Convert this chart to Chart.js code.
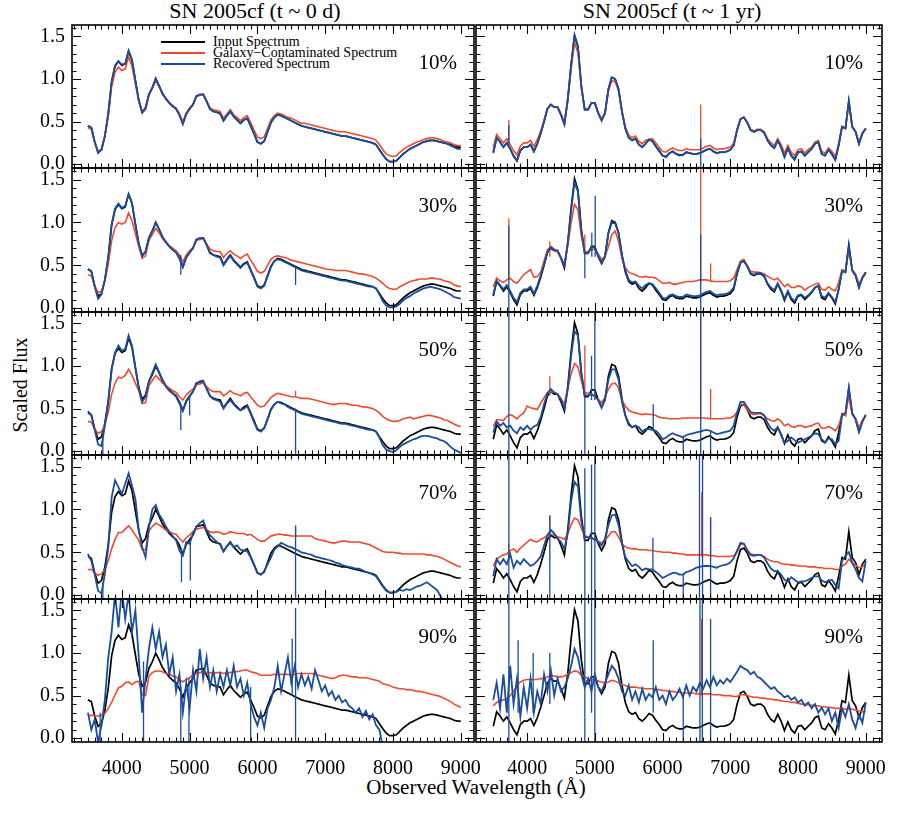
<!DOCTYPE html>
<html>
<head>
<meta charset="utf-8">
<script src="https://cdn.jsdelivr.net/npm/chart.js@4.4.1/dist/chart.umd.min.js"></script>
<style>
  body { margin: 0; width: 900px; height: 835px; background: #fff; position: relative; overflow: hidden;
         font-family: "Liberation Serif", "DejaVu Serif", serif; color: #000; }
  canvas { position: absolute; }
  .txt { position: absolute; white-space: nowrap; line-height: 1; }
  .leg { position: absolute; left: 161px; font-size: 14px; line-height: 11px; height: 11px; white-space: nowrap; }
  .leg span { display: inline-block; width: 44px; height: 2px; vertical-align: middle; margin-right: 8px; position: relative; top: -1px; }
</style>
</head>
<body>
<div class="txt" style="left:255px;top:0px;font-size:22px;transform:translateX(-50%)">SN 2005cf (t ~ 0 d)</div>
<div class="txt" style="left:672px;top:0px;font-size:22px;transform:translateX(-50%)">SN 2005cf (t ~ 1 yr)</div>
<div class="txt" style="left:20px;top:385px;font-size:20px;transform:translate(-50%,-50%) rotate(-90deg)">Scaled Flux</div>
<div class="txt" style="left:476px;top:777px;font-size:21px;transform:translateX(-50%)">Observed Wavelength (Å)</div>
<div class="leg" style="top:36px"><span style="background:#000"></span>Input Spectrum</div>
<div class="leg" style="top:47px"><span style="background:#f04a2e"></span>Galaxy−Contaminated Spectrum</div>
<div class="leg" style="top:58px"><span style="background:#1b4d9e"></span>Recovered Spectrum</div>
<script>
// wavelength grid (Å)
const wave = [3500,3550,3600,3650,3700,3750,3800,3850,3900,3950,
  4000,4050,4100,4150,4200,4250,4300,4350,4400,4450,
  4500,4550,4600,4650,4700,4750,4800,4850,4900,4950,
  5000,5050,5100,5150,5200,5250,5300,5350,5400,5450,
  5500,5550,5600,5650,5700,5750,5800,5850,5900,5950,
  6000,6050,6100,6150,6200,6250,6300,6350,6400,6450,
  6500,6550,6600,6650,6700,6750,6800,6850,6900,6950,
  7000,7050,7100,7150,7200,7250,7300,7350,7400,7450,
  7500,7550,7600,7650,7700,7750,7800,7850,7900,7950,
  8000,8050,8100,8150,8200,8250,8300,8350,8400,8450,
  8500,8550,8600,8650,8700,8750,8800,8850,8900,8950,
  9000];
const xTickVals = [4000, 5000, 6000, 7000, 8000, 9000];
const yTickVals = [0, 0.5, 1.0, 1.5];
const fractions = ['10%', '30%', '50%', '70%', '90%'];

// ---- t ~ 0 d (left column) ----
const L_input = [.45,.43,.26,.14,.17,.33,.59,.97,1.15,1.21,
  1.16,1.18,1.33,1.22,.98,.75,.61,.66,.82,.90,
  1.00,.92,.83,.77,.72,.68,.65,.58,.48,.59,
  .65,.70,.80,.81,.82,.74,.65,.62,.61,.60,
  .51,.57,.62,.56,.52,.48,.52,.54,.45,.36,
  .26,.24,.27,.38,.49,.55,.58,.57,.55,.53,
  .51,.49,.47,.45,.44,.43,.42,.41,.40,.39,
  .38,.37,.36,.35,.34,.33,.33,.32,.31,.30,
  .29,.28,.27,.26,.25,.23,.17,.11,.06,.03,
  .03,.04,.08,.12,.15,.18,.20,.22,.24,.26,
  .27,.28,.28,.27,.26,.25,.24,.23,.21,.20,
  .20];
const L_red10 = [.43,.41,.26,.15,.18,.33,.56,.91,1.08,1.14,
  1.10,1.12,1.26,1.15,.94,.74,.60,.64,.81,.89,
  .98,.91,.82,.77,.72,.69,.66,.59,.50,.60,
  .66,.70,.80,.81,.82,.74,.66,.64,.63,.62,
  .54,.59,.64,.58,.55,.51,.55,.57,.49,.40,
  .32,.30,.32,.42,.52,.57,.60,.59,.57,.55,
  .54,.52,.50,.48,.48,.47,.46,.45,.44,.43,
  .42,.41,.40,.39,.38,.38,.38,.37,.36,.35,
  .34,.33,.32,.31,.30,.28,.23,.17,.12,.10,
  .09,.10,.14,.17,.20,.22,.24,.26,.27,.29,
  .30,.31,.31,.30,.29,.27,.26,.25,.23,.22,
  .22];
const L_blue10 = [.45,.43,.26,.13,.17,.33,.60,.97,1.16,1.21,
  1.17,1.18,1.33,1.23,.98,.75,.61,.66,.82,.90,
  1.01,.92,.83,.77,.72,.68,.65,.58,.47,.59,
  .65,.70,.80,.82,.82,.74,.65,.62,.61,.59,
  .51,.57,.62,.56,.52,.48,.52,.54,.45,.36,
  .26,.24,.27,.38,.49,.55,.58,.57,.55,.53,
  .51,.49,.47,.45,.44,.43,.42,.41,.40,.39,
  .38,.37,.36,.35,.34,.33,.33,.32,.31,.30,
  .29,.28,.27,.26,.25,.23,.17,.11,.06,.03,
  .03,.04,.08,.12,.15,.18,.20,.22,.24,.26,
  .27,.28,.28,.27,.26,.25,.24,.22,.20,.18,
  .18];
const L_red30 = [.39,.38,.26,.18,.20,.32,.51,.79,.94,1.00,
  .98,1.00,1.11,1.02,.87,.72,.58,.61,.79,.86,
  .93,.88,.81,.77,.73,.70,.67,.62,.54,.62,
  .67,.71,.79,.80,.81,.75,.69,.67,.66,.66,
  .59,.64,.67,.63,.61,.58,.61,.63,.56,.50,
  .43,.41,.43,.50,.57,.60,.61,.60,.59,.58,
  .56,.55,.54,.53,.52,.51,.50,.49,.48,.47,
  .46,.45,.45,.44,.44,.44,.44,.43,.42,.41,
  .40,.40,.39,.38,.37,.35,.32,.29,.25,.23,
  .22,.22,.25,.27,.29,.31,.32,.33,.34,.34,
  .34,.35,.35,.34,.34,.32,.31,.30,.27,.26,
  .25];
const L_blue30 = [.46,.43,.25,.11,.16,.33,.60,.98,1.16,1.22,
  1.17,1.19,1.33,1.23,.98,.75,.61,.66,.82,.90,
  1.00,.92,.83,.77,.72,.68,.65,.58,.48,.59,
  .65,.70,.80,.82,.82,.74,.64,.62,.60,.59,
  .50,.56,.61,.55,.51,.47,.51,.53,.44,.35,
  .25,.23,.26,.37,.48,.55,.57,.56,.54,.52,
  .50,.48,.46,.44,.43,.42,.41,.40,.39,.38,
  .37,.36,.35,.34,.33,.32,.32,.31,.30,.29,
  .28,.27,.26,.25,.25,.23,.16,.08,.03,.01,
  .01,.02,.05,.09,.12,.14,.17,.19,.21,.23,
  .24,.25,.24,.23,.22,.20,.18,.16,.13,.12,
  .11];
const L_red50 = [.35,.34,.26,.21,.23,.31,.46,.67,.80,.87,
  .86,.89,.96,.89,.80,.71,.56,.57,.77,.83,
  .89,.85,.80,.77,.74,.71,.69,.64,.60,.66,
  .70,.73,.78,.79,.80,.76,.72,.70,.70,.70,
  .65,.68,.71,.68,.67,.65,.68,.69,.64,.59,
  .54,.52,.53,.58,.63,.66,.68,.67,.66,.65,
  .64,.64,.63,.62,.62,.62,.61,.60,.59,.58,
  .57,.56,.55,.55,.56,.56,.56,.55,.54,.54,
  .53,.52,.52,.51,.50,.48,.45,.41,.38,.36,
  .35,.35,.36,.38,.39,.40,.38,.39,.40,.41,
  .42,.42,.41,.40,.39,.37,.36,.34,.32,.30,
  .29];
const L_blue50 = [.47,.42,.25,.08,.06,.30,.58,.96,1.16,1.24,
  1.18,1.20,1.36,1.24,.98,.74,.58,.64,.82,.92,
  1.02,.93,.84,.76,.71,.68,.64,.56,.47,.58,
  .64,.70,.79,.82,.83,.73,.65,.61,.60,.58,
  .50,.56,.60,.55,.51,.48,.50,.53,.44,.34,
  .25,.23,.27,.37,.49,.55,.58,.56,.55,.52,
  .50,.48,.46,.44,.43,.42,.41,.40,.39,.38,
  .37,.36,.35,.34,.33,.32,.32,.31,.30,.29,
  .28,.27,.26,.25,.25,.23,.16,.07,.02,.00,
  -.01,.01,.05,.08,.10,.12,.14,.15,.17,.18,
  .18,.17,.16,.15,.13,.12,.09,.05,.02,.00,
  -.02];
const L_red70 = [.30,.30,.26,.23,.25,.30,.40,.54,.65,.73,
  .73,.77,.81,.76,.70,.64,.53,.53,.75,.80,
  .84,.82,.79,.76,.74,.72,.71,.66,.62,.67,
  .70,.74,.77,.78,.79,.76,.74,.73,.74,.73,
  .71,.72,.74,.73,.72,.72,.72,.70,.71,.68,
  .65,.63,.63,.66,.69,.70,.71,.71,.70,.70,
  .69,.69,.69,.69,.69,.69,.69,.66,.65,.64,
  .63,.62,.61,.61,.62,.63,.63,.62,.62,.62,
  .62,.61,.60,.59,.57,.55,.53,.51,.50,.50,
  .50,.49,.49,.48,.48,.48,.48,.48,.48,.48,
  .47,.47,.46,.45,.44,.42,.40,.38,.36,.34,
  .33];
const L_blue70 = [.48,.40,.24,.05,.02,.25,.56,1.14,1.34,1.26,
  1.18,1.30,1.42,1.28,1.12,.76,.56,.44,.79,1.00,
  1.05,.94,.88,.80,.74,.69,.64,.52,.46,.62,
  .60,.72,.80,.84,.87,.76,.70,.66,.62,.59,
  .51,.57,.61,.56,.58,.53,.52,.51,.44,.35,
  .26,.24,.28,.36,.44,.53,.57,.61,.59,.57,
  .56,.54,.52,.50,.49,.48,.47,.45,.44,.43,
  .42,.41,.40,.38,.37,.35,.34,.33,.32,.31,
  .31,.29,.27,.26,.24,.22,.16,.10,.05,.03,
  .03,.04,.06,.05,.07,.06,.08,.10,.11,.13,
  .15,.12,.09,.06,-.01,-.08,-.15,null,null,null,
  null];
const L_red90 = [.26,.27,.26,.26,.27,.29,.35,.42,.51,.59,
  .61,.65,.66,.63,.66,.67,.51,.50,.73,.77,
  .79,.79,.78,.76,.75,.73,.72,.69,.66,.69,
  .71,.74,.76,.77,.78,.77,.77,.76,.77,.77,
  .76,.77,.77,.78,.78,.79,.80,.80,.78,.77,
  .76,.74,.74,.74,.74,.75,.75,.75,.75,.75,
  .74,.75,.76,.76,.76,.76,.76,.75,.74,.73,
  .72,.71,.70,.71,.73,.74,.74,.73,.72,.72,
  .71,.71,.71,.70,.69,.68,.67,.64,.63,.62,
  .60,.59,.58,.58,.57,.57,.56,.55,.55,.54,
  .53,.52,.51,.50,.49,.47,.45,.43,.40,.38,
  .36];
const L_blue90 = [.30,.10,.22,-.05,.15,.45,.95,1.25,1.70,1.30,
  1.75,1.40,1.70,1.25,1.50,.95,.30,.70,1.05,1.30,
  1.05,1.25,.95,1.10,.75,.95,.55,.75,.30,.65,
  .35,.80,.55,1.05,.70,.95,.60,.80,.55,.75,
  .60,.80,.62,.85,.60,.70,.50,.65,.40,.25,
  .15,.30,.12,.35,.45,.60,.85,.55,.75,.95,
  .65,.85,.60,.75,.62,.72,.58,.80,.68,.55,
  .62,.50,.55,.45,.50,.42,.45,.38,.35,.30,
  .35,.25,.32,.22,.28,.15,.10,-.10,null,null,
  null,null,null,null,null,null,null,null,null,null,
  null,null,null,null,null,null,null,null,null,null,
  null];

// ---- t ~ 1 yr (right column) ----
const R_input = [.14,.31,.26,.20,.25,.18,.10,.04,.16,.20,
  .20,.23,.15,.24,.36,.50,.65,.70,.67,.67,
  .58,.47,.76,1.17,1.51,1.38,.92,.64,.64,.72,
  .72,.60,.52,.60,.88,1.02,1.00,.88,.62,.42,
  .31,.28,.30,.23,.20,.24,.29,.27,.21,.16,
  .10,.09,.13,.15,.12,.11,.11,.14,.13,.12,
  .12,.13,.15,.17,.18,.15,.13,.14,.14,.15,
  .17,.22,.40,.53,.55,.49,.40,.38,.40,.40,
  .37,.28,.22,.19,.28,.20,.09,.19,.10,.06,
  .14,.15,.10,.14,.18,.24,.26,.12,.10,.17,
  .12,.05,.22,.44,.42,.74,.44,.38,.24,.36,
  .42];
const R_red10 = [.20,.35,.30,.25,.30,.23,.16,.11,.21,.25,
  .25,.28,.21,.29,.39,.52,.66,.70,.67,.67,
  .59,.49,.75,1.12,1.43,1.31,.90,.65,.65,.72,
  .71,.61,.53,.61,.86,.98,.97,.86,.62,.44,
  .34,.31,.33,.27,.24,.28,.29,.30,.25,.20,
  .15,.14,.17,.19,.17,.16,.16,.18,.17,.17,
  .17,.17,.19,.21,.22,.19,.17,.18,.18,.19,
  .20,.25,.41,.53,.55,.49,.41,.39,.41,.41,
  .38,.30,.25,.22,.30,.23,.13,.22,.14,.10,
  .17,.18,.13,.17,.20,.26,.28,.15,.13,.19,
  .15,.09,.24,.44,.42,.71,.44,.38,.26,.37,
  .42];
const R_blue10 = [.13,.31,.26,.20,.25,.18,.09,.04,.16,.20,
  .20,.23,.15,.24,.36,.50,.65,.70,.67,.67,
  .58,.47,.76,1.17,1.52,1.39,.92,.64,.64,.72,
  .72,.60,.51,.60,.88,1.02,1.00,.88,.62,.42,
  .31,.28,.30,.23,.20,.24,.29,.27,.21,.15,
  .10,.08,.13,.15,.12,.10,.11,.14,.13,.12,
  .12,.13,.15,.17,.18,.15,.13,.14,.14,.15,
  .17,.22,.40,.53,.55,.49,.40,.38,.40,.40,
  .37,.28,.22,.19,.28,.20,.08,.19,.10,.05,
  .14,.15,.10,.14,.18,.24,.26,.12,.10,.17,
  .12,.05,.22,.44,.42,.74,.44,.38,.24,.36,
  .42];
const R_red30 = [.25,.35,.32,.30,.33,.35,.31,.29,.34,.39,
  .42,.45,.36,.37,.42,.55,.68,.72,.69,.65,
  .58,.51,.72,1.00,1.21,1.15,.84,.65,.66,.68,
  .69,.63,.57,.60,.72,.86,.90,.78,.58,.47,
  .42,.40,.39,.37,.36,.37,.36,.36,.35,.32,
  .29,.29,.30,.28,.28,.29,.30,.31,.31,.31,
  .32,.33,.33,.33,.32,.31,.31,.31,.31,.31,
  .32,.35,.45,.55,.57,.50,.43,.42,.42,.41,
  .40,.37,.35,.33,.35,.30,.25,.28,.24,.24,
  .26,.25,.21,.24,.26,.28,.29,.22,.21,.25,
  .22,.20,.30,.45,.43,.68,.45,.40,.28,.36,
  .41];
const R_blue30 = [.16,.32,.27,.22,.27,.20,.12,.07,.18,.22,
  .22,.25,.17,.26,.38,.51,.66,.71,.68,.67,
  .59,.49,.76,1.14,1.47,1.36,.91,.65,.64,.71,
  .71,.61,.53,.61,.87,1.00,.99,.87,.62,.44,
  .33,.30,.31,.26,.23,.27,.29,.28,.23,.18,
  .12,.11,.15,.16,.14,.13,.13,.16,.15,.14,
  .14,.15,.17,.19,.20,.17,.15,.16,.16,.17,
  .19,.24,.41,.53,.55,.49,.41,.39,.41,.41,
  .38,.29,.24,.21,.29,.21,.11,.20,.12,.08,
  .15,.16,.12,.15,.19,.24,.26,.14,.12,.18,
  .13,.07,.22,.43,.42,.72,.44,.38,.25,.35,
  .41];
const R_red50 = [.29,.37,.37,.36,.41,.43,.41,.38,.42,.45,
  .53,.51,.50,.49,.56,.63,.69,.70,.69,.67,
  .61,.56,.74,.91,1.03,.99,.83,.69,.68,.67,
  .64,.61,.57,.63,.73,.79,.80,.74,.60,.53,
  .48,.46,.45,.44,.43,.44,.43,.43,.42,.40,
  .39,.39,.38,.38,.38,.38,.39,.39,.39,.39,
  .39,.39,.39,.39,.38,.38,.38,.38,.38,.39,
  .39,.41,.46,.55,.55,.49,.44,.43,.44,.44,
  .42,.38,.36,.35,.38,.35,.30,.32,.29,.28,
  .30,.30,.28,.29,.30,.32,.33,.27,.27,.29,
  .27,.24,.30,.43,.42,.65,.43,.38,.28,.36,
  .42];
const R_blue50 = [.22,.35,.30,.33,.28,.30,.24,.21,.28,.25,
  .30,.25,.29,.31,.40,.55,.68,.73,.69,.67,
  .61,.50,.72,1.12,1.41,1.36,.92,.66,.65,.67,
  .65,.60,.51,.62,.84,.96,.96,.84,.58,.42,
  .33,.28,.30,.28,.23,.26,.26,.25,.24,.20,
  .14,.16,.19,.21,.19,.18,.16,.19,.20,.21,
  .22,.23,.24,.25,.24,.22,.20,.21,.22,.23,
  .24,.30,.45,.58,.58,.52,.46,.45,.45,.45,
  .42,.33,.27,.24,.28,.19,.10,.12,.16,.13,
  .10,.12,.14,.16,.18,.21,.20,.14,.10,.15,
  .14,.08,.12,.42,.45,.74,.45,.37,.22,.34,
  .43];
const R_red70 = [.34,.42,.45,.47,.48,.52,.54,.50,.55,.58,
  .62,.65,.63,.62,.65,.67,.70,.71,.70,.68,
  .67,.65,.72,.82,.90,.88,.78,.69,.68,.66,
  .65,.63,.61,.64,.69,.74,.74,.68,.60,.56,
  .55,.54,.54,.53,.53,.53,.52,.52,.51,.51,
  .50,.50,.50,.49,.49,.48,.48,.47,.47,.47,
  .47,.47,.47,.47,.46,.46,.45,.45,.45,.45,
  .45,.46,.50,.59,.60,.53,.48,.47,.47,.47,
  .45,.42,.40,.39,.39,.37,.36,.36,.35,.35,
  .34,.34,.34,.33,.33,.33,.32,.32,.31,.31,
  .31,.30,.30,.34,.36,.42,.38,.35,.32,.33,
  .36];
const R_blue70 = [.22,.42,.36,.42,.36,.48,.32,.40,.36,.42,
  .38,.34,.36,.40,.45,.58,.70,.76,.72,.66,
  .62,.54,.72,1.10,1.32,1.27,.86,.68,.67,.67,
  .65,.62,.58,.66,.82,.93,.94,.82,.60,.44,
  .39,.34,.36,.33,.29,.31,.30,.30,.27,.24,
  .20,.22,.24,.26,.26,.24,.24,.27,.28,.30,
  .32,.33,.34,.34,.34,.33,.32,.34,.35,.36,
  .38,.43,.52,.61,.60,.52,.47,.46,.47,.47,
  .44,.37,.31,.28,.28,.24,.18,.16,.21,.18,
  .15,.16,.16,.18,.20,.22,.22,.17,.15,.17,
  .18,.12,.08,.40,.46,.50,.38,.30,.20,.16,
  .40];
const R_red90 = [.38,.42,.44,.45,.46,.50,.55,.62,.66,.68,
  .69,.69,.69,.69,.70,.70,.72,.74,.73,.72,
  .72,.73,.75,.77,.79,.78,.74,.72,.70,.69,
  .68,.67,.66,.65,.66,.68,.67,.65,.63,.62,
  .60,.60,.60,.59,.59,.58,.58,.58,.57,.57,
  .56,.56,.55,.55,.54,.54,.53,.53,.53,.53,
  .52,.52,.52,.52,.52,.51,.51,.51,.50,.50,
  .50,.49,.49,.51,.51,.50,.49,.48,.48,.47,
  .47,.46,.46,.45,.45,.44,.43,.43,.42,.42,
  .41,.40,.40,.39,.39,.38,.38,.37,.37,.36,
  .36,.35,.35,.35,.34,.35,.34,.33,.32,.31,
  .31];
const R_blue90 = [.45,.65,.35,.75,.30,.85,.40,.70,.25,.60,
  .35,.70,.30,.55,.40,.75,.55,.80,.50,.70,
  .55,.60,.70,.85,1.05,.95,.75,.60,.70,.55,
  .75,.60,.55,.65,.75,.85,.80,.70,.55,.50,
  .62,.45,.55,.42,.58,.45,.52,.48,.60,.45,
  .50,.40,.55,.45,.50,.58,.48,.62,.50,.60,
  .55,.65,.58,.68,.60,.72,.62,.68,.64,.70,
  .66,.72,.78,.85,.82,.80,.75,.78,.72,.70,
  .66,.62,.58,.60,.55,.52,.48,.50,.45,.48,
  .42,.45,.38,.42,.35,.40,.30,.36,.28,.35,
  .20,.30,.12,.35,.25,.40,.22,.12,.28,.18,
  .42];

// narrow lines: [wavelength, low, high]
const L30_blueSpikes = [[4870,.39,.62],[6563,.27,.50]];
const L50_blueSpikes = [[3720,-.1,.25],[4870,.25,.55],[5000,.42,.66],[6563,-.1,.50]];
const L50_redSpikes = [[6563,.64,.71]];
const L70_blueSpikes = [[3720,-.1,.15],[4880,.15,.55],[5010,.17,.62],[6563,-.1,.80]];
const L70_redSpikes = [[6563,.68,.82]];
const L90_blueSpikes = [[3680,-.1,.3],[4320,-.1,.9],[4870,-.1,.6],[4990,-.1,.7],[5900,-.1,.6],[6513,.5,1.17],[6563,-.1,1.53]];
const R10_redSpikes = [[3730,.25,.52],[6563,.18,.70]];
const R10_blueSpikes = [[3730,.2,.46],[6563,-.1,.3]];
const R30_redSpikes = [[3730,.33,1.05],[4335,.6,.78],[4852,.62,.86],[6563,.3,1.7],[6709,.3,.52]];
const R30_blueSpikes = [[3730,-.1,.96],[4852,.35,.65],[4955,.6,.88],[5005,.6,1.31],[6563,-.1,.86]];
const R50_redSpikes = [[4335,.65,.88],[4852,.65,1.24],[6563,.38,1.7],[6709,.38,.73]];
const R50_blueSpikes = [[3730,-.1,1.7],[4852,-.1,.65],[4951,.6,1.12],[5000,.6,1.7],[5862,.25,.55],[6305,0,.18],[6563,-.1,1.7],[6709,-.1,.25]];
const R70_redSpikes = [[3730,.45,.6],[4335,.7,.93],[6577,.45,1.2],[6709,.45,.91]];
const R70_blueSpikes = [[3730,-.1,1.7],[4335,-.1,.93],[4852,-.1,1.48],[4951,-.1,1.52],[5000,-.1,1.7],[5857,.3,.67],[6305,-.1,.25],[6545,-.1,1.7],[6590,-.1,1.7],[6709,-.1,.91]];
const R90_redSpikes = [[6577,.5,1.4]];
const R90_blueSpikes = [[3730,-.1,1.7],[3867,.3,1.15],[4089,.3,1.0],[4335,.4,1.0],[4852,-.1,1.7],[4951,.3,1.7],[5000,-.1,1.7],[5862,.3,1.15],[6305,-.1,.5],[6552,-.1,1.7],[6587,-.1,1.7],[6709,-.1,1.4]];

const panels = [
  {col:0,row:0,input:L_input,red:L_red10,blue:L_blue10,rs:[],bs:[]},
  {col:0,row:1,input:L_input,red:L_red30,blue:L_blue30,rs:[],bs:L30_blueSpikes},
  {col:0,row:2,input:L_input,red:L_red50,blue:L_blue50,rs:L50_redSpikes,bs:L50_blueSpikes},
  {col:0,row:3,input:L_input,red:L_red70,blue:L_blue70,rs:L70_redSpikes,bs:L70_blueSpikes},
  {col:0,row:4,input:L_input,red:L_red90,blue:L_blue90,rs:[],bs:L90_blueSpikes},
  {col:1,row:0,input:R_input,red:R_red10,blue:R_blue10,rs:R10_redSpikes,bs:R10_blueSpikes},
  {col:1,row:1,input:R_input,red:R_red30,blue:R_blue30,rs:R30_redSpikes,bs:R30_blueSpikes},
  {col:1,row:2,input:R_input,red:R_red50,blue:R_blue50,rs:R50_redSpikes,bs:R50_blueSpikes},
  {col:1,row:3,input:R_input,red:R_red70,blue:R_blue70,rs:R70_redSpikes,bs:R70_blueSpikes},
  {col:1,row:4,input:R_input,red:R_red90,blue:R_blue90,rs:R90_redSpikes,bs:R90_blueSpikes}
];

// layout
const cols = [
  {left: 72, right: 474, xmin: 3265, xmax: 9195},
  {left: 476, right: 882, xmin: 3245, xmax: 9240}
];
const rowTops = [25, 168, 312, 455, 599];
const plotBottom = 742;
const yMin = -0.045, yMax = 1.635;
const BLACK = '#000000', RED = '#f04a2e', BLUE = '#1b4d9e';
const tickFont = { family: 'Liberation Serif', size: 20 };

function toXY(vals) {
  return wave.map((w, i) => ({ x: w, y: vals[i] }));
}
function spikeXY(list) {
  const out = [];
  list.forEach(([w, lo, hi]) => {
    out.push({ x: w, y: lo }, { x: w, y: hi }, { x: w, y: null });
  });
  return out;
}

// frame with inward ticks on all sides
const framePlugin = {
  id: 'frame',
  afterDraw(chart) {
    const { ctx, chartArea: a } = chart;
    const xs = chart.scales.x, ys = chart.scales.y;
    ctx.save();
    ctx.strokeStyle = '#000';
    ctx.lineWidth = 1.1;
    ctx.beginPath();
    for (let v = Math.ceil(xs.min / 100) * 100; v <= xs.max; v += 100) {
      const px = Math.round(xs.getPixelForValue(v)) + 0.5;
      const len = v % 1000 === 0 ? 9 : 4.5;
      ctx.moveTo(px, a.bottom); ctx.lineTo(px, a.bottom - len);
      ctx.moveTo(px, a.top); ctx.lineTo(px, a.top + len);
    }
    for (let k = 0; k <= 16; k++) {
      const py = Math.round(ys.getPixelForValue(k / 10)) + 0.5;
      const len = k % 5 === 0 ? 9 : 4.5;
      ctx.moveTo(a.left, py); ctx.lineTo(a.left + len, py);
      ctx.moveTo(a.right, py); ctx.lineTo(a.right - len, py);
    }
    ctx.stroke();
    ctx.lineWidth = 1.6;
    ctx.strokeRect(a.left, a.top, a.right - a.left, a.bottom - a.top);
    ctx.restore();
  }
};

function panelConfig(p, c, isLeft, isBottom) {
  const line = (data, color, width, order) => ({
    data, borderColor: color, borderWidth: width, pointRadius: 0,
    fill: false, tension: 0, spanGaps: false, order
  });
  return {
    type: 'line',
    data: {
      datasets: [
        line(spikeXY(p.bs), BLUE, 1.3, 0),
        line(toXY(p.blue), BLUE, 1.8, 1),
        line(spikeXY(p.rs), RED, 1.3, 2),
        line(toXY(p.red), RED, 1.6, 3),
        line(toXY(p.input), BLACK, 1.7, 4)
      ]
    },
    options: {
      responsive: false,
      maintainAspectRatio: false,
      animation: false,
      events: [],
      parsing: false,
      layout: { autoPadding: false,
                padding: { left: isLeft ? 0 : 3, right: isBottom ? 25 : 3, top: 3, bottom: isBottom ? 0 : 3 } },
      plugins: { legend: { display: false }, tooltip: { enabled: false } },
      scales: {
        x: {
          type: 'linear', min: c.xmin, max: c.xmax, display: isBottom,
          afterFit: s => { s.height = isBottom ? 40 : 0; s.paddingLeft = 0; s.paddingRight = 0; },
          afterBuildTicks: s => { s.ticks = xTickVals.map(v => ({ value: v })); },
          grid: { display: false, drawTicks: false },
          border: { display: false },
          ticks: { font: tickFont, color: '#000', padding: 15, maxRotation: 0, autoSkip: false,
                   callback: v => String(v) }
        },
        y: {
          type: 'linear', min: yMin, max: yMax, display: isLeft,
          afterFit: s => { s.width = isLeft ? 50 : 0; s.paddingTop = 0; s.paddingBottom = 0; },
          afterBuildTicks: s => { s.ticks = yTickVals.map(v => ({ value: v })); },
          grid: { display: false, drawTicks: false },
          border: { display: false },
          ticks: { font: tickFont, color: '#000', padding: 7, callback: v => v.toFixed(1) }
        }
      }
    },
    plugins: [framePlugin]
  };
}

function makePanel(p) {
  const c = cols[p.col];
  const top = rowTops[p.row];
  const bottom = p.row < 4 ? rowTops[p.row + 1] : plotBottom;
  const isLeft = p.col === 0, isBottom = p.row === 4;
  const plotW = c.right - c.left, plotH = bottom - top;

  const canvas = document.createElement('canvas');
  canvas.width = plotW + (isLeft ? 53 : 6) + (isBottom ? 22 : 0);
  canvas.height = plotH + (isBottom ? 43 : 6);
  document.body.appendChild(canvas);

  // first pass: measure the margins Chart.js leaves around the plot area
  let chart = new Chart(canvas, panelConfig(p, c, isLeft, isBottom));
  let a = chart.chartArea;
  const mL = a.left, mT = a.top;
  const mR = canvas.width - a.right, mB = canvas.height - a.bottom;
  chart.destroy();

  // second pass: size the canvas so the plot area is exactly the panel rectangle
  canvas.width = Math.round(mL + plotW + mR);
  canvas.height = Math.round(mT + plotH + mB);
  canvas.style.width = canvas.width + 'px';
  canvas.style.height = canvas.height + 'px';
  chart = new Chart(canvas, panelConfig(p, c, isLeft, isBottom));
  a = chart.chartArea;
  canvas.style.left = (c.left - a.left) + 'px';
  canvas.style.top = (top - a.top) + 'px';

  const lab = document.createElement('div');
  lab.className = 'txt';
  lab.textContent = fractions[p.row];
  lab.style.fontSize = '21px';
  lab.style.right = (900 - c.right + (isLeft ? 17 : 19)) + 'px';
  lab.style.top = (top + 27) + 'px';
  document.body.appendChild(lab);
}

panels.forEach(makePanel);
</script>
</body>
</html>
